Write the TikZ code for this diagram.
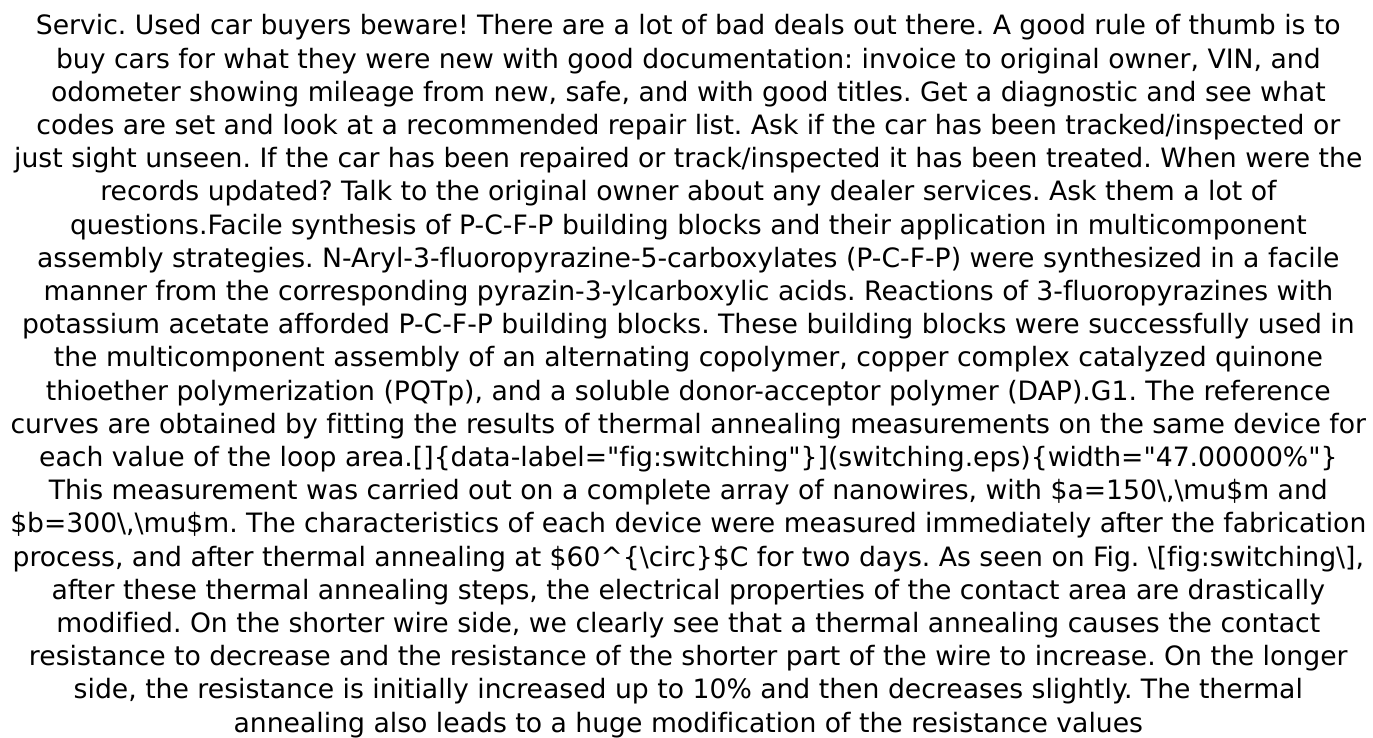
\documentclass[tikz,border=0pt]{standalone}
\usepackage{fontspec}
\setmainfont{DejaVu Sans}[Ligatures={TeXOff,NoCommon}]
\newsavebox\linebox
\newcommand\fitline[1]{\sbox\linebox{#1}\ifdim\wd\linebox>1356pt\resizebox{1356pt}{\height}{\usebox\linebox}\else\usebox\linebox\fi}
\begin{document}
\frenchspacing
\begin{tikzpicture}[x=1pt,y=1pt,
  ln/.style={anchor=base,inner sep=0pt,font=\fontsize{26.65}{33}\selectfont\frenchspacing,text=black}]
\useasboundingbox[fill=white] (0,0) rectangle (1373,738);
\def\bl{35}\def\sp{33.2}
\foreach \i/\t in {
1/{Servic. Used car buyers beware! There are a lot of bad deals out there. A good rule of thumb is to},
2/{buy cars for what they were new with good documentation: invoice to original owner, VIN, and},
3/{odometer showing mileage from new, safe, and with good titles. Get a diagnostic and see what},
4/{codes are set and look at a recommended repair list. Ask if the car has been tracked/inspected or},
5/{just sight unseen. If the car has been repaired or track/inspected it has been treated. When were the},
6/{records updated? Talk to the original owner about any dealer services. Ask them a lot of},
7/{questions.Facile synthesis of P-C-F-P building blocks and their application in multicomponent},
8/{assembly strategies. N-Aryl-3-fluoropyrazine-5-carboxylates (P-C-F-P) were synthesized in a facile},
9/{manner from the corresponding pyrazin-3-ylcarboxylic acids. Reactions of 3-fluoropyrazines with},
10/{potassium acetate afforded P-C-F-P building blocks. These building blocks were successfully used in},
11/{the multicomponent assembly of an alternating copolymer, copper complex catalyzed quinone},
12/{thioether polymerization (PQTp), and a soluble donor-acceptor polymer (DAP).G1. The reference},
13/{curves are obtained by fitting the results of thermal annealing measurements on the same device for},
14/{each value of the loop area.[]\{data-label="fig:switching"\}](switching.eps)\{width="47.00000\%"\}},
15/{This measurement was carried out on a complete array of nanowires, with \$a=150\textbackslash,\textbackslash mu\$m and},
16/{\$b=300\textbackslash,\textbackslash mu\$m. The characteristics of each device were measured immediately after the fabrication},
17/{process, and after thermal annealing at \$60\textasciicircum\{\textbackslash circ\}\$C for two days. As seen on Fig. \textbackslash[fig:switching\textbackslash],},
18/{after these thermal annealing steps, the electrical properties of the contact area are drastically},
19/{modified. On the shorter wire side, we clearly see that a thermal annealing causes the contact},
20/{resistance to decrease and the resistance of the shorter part of the wire to increase. On the longer},
21/{side, the resistance is initially increased up to 10\% and then decreases slightly. The thermal},
22/{annealing also leads to a huge modification of the resistance values}}
{\node[ln] (l\i) at (688.3,{738-\bl-(\i-1)*\sp}) {\fitline{\t}};}
\end{tikzpicture}
\end{document}
